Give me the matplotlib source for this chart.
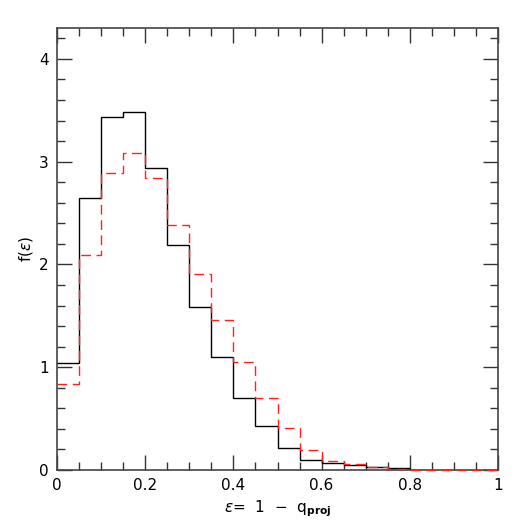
import matplotlib

matplotlib.use("Agg")

import matplotlib.pyplot as plt
import numpy as np
from matplotlib.ticker import MultipleLocator

# bin width 0.05 from 0 to 1
bin_lo = 0.0
bin_hi = 1.0
bin_width = 0.05

black_vals = [1.04, 2.65, 3.43, 3.48, 2.94, 2.19, 1.59, 1.10, 0.70, 0.43,
              0.217, 0.097, 0.07, 0.045, 0.032, 0.02, 0.0, 0.0, 0.0, 0.0]
red_vals = [0.84, 2.09, 2.89, 3.08, 2.84, 2.38, 1.91, 1.46, 1.05, 0.70,
            0.405, 0.19, 0.088, 0.055, 0.026, 0.013, 0.003, 0.0, 0.0, 0.0]

edges = np.arange(bin_lo, bin_hi + bin_width / 2, bin_width)

fig = plt.figure(figsize=(5.26, 5.26), dpi=100, facecolor="white")
ax = fig.add_axes([57 / 526, 56 / 526, 441 / 526, 442 / 526])

ax.stairs(black_vals[:16], edges[:17], color="black", linewidth=1.0,
          baseline=None, zorder=3)
ax.stairs(red_vals, edges, color="#ff2020", linewidth=1.0, baseline=None,
          linestyle=(0, (7, 4)), zorder=3, clip_on=False)

ax.set_xlim(0, 1)
ax.set_ylim(0, 4.3)
ax.xaxis.set_major_locator(MultipleLocator(0.2))
ax.xaxis.set_minor_locator(MultipleLocator(0.05))
ax.yaxis.set_major_locator(MultipleLocator(1))
ax.yaxis.set_minor_locator(MultipleLocator(0.2))
ax.set_xticks([0, 0.2, 0.4, 0.6, 0.8, 1.0])
ax.set_xticklabels(["0", "0.2", "0.4", "0.6", "0.8", "1"])

ax.tick_params(which="both", direction="in", top=True, right=True,
               color="#333333", labelsize=11, width=1.0)
ax.tick_params(which="major", length=11, pad=6)
ax.tick_params(which="minor", length=5.5)
for sp in ax.spines.values():
    sp.set_color("#444444")
    sp.set_linewidth(1.2)
    sp.set_zorder(2)

ax.set_xlabel(r"$\epsilon$=  1  $-$  q$_{\mathbf{proj}}$", fontsize=11, labelpad=4)
ax.set_ylabel(r"f($\epsilon$)", fontsize=11, labelpad=3)

fig.savefig("out.png", dpi=100, facecolor="white")
